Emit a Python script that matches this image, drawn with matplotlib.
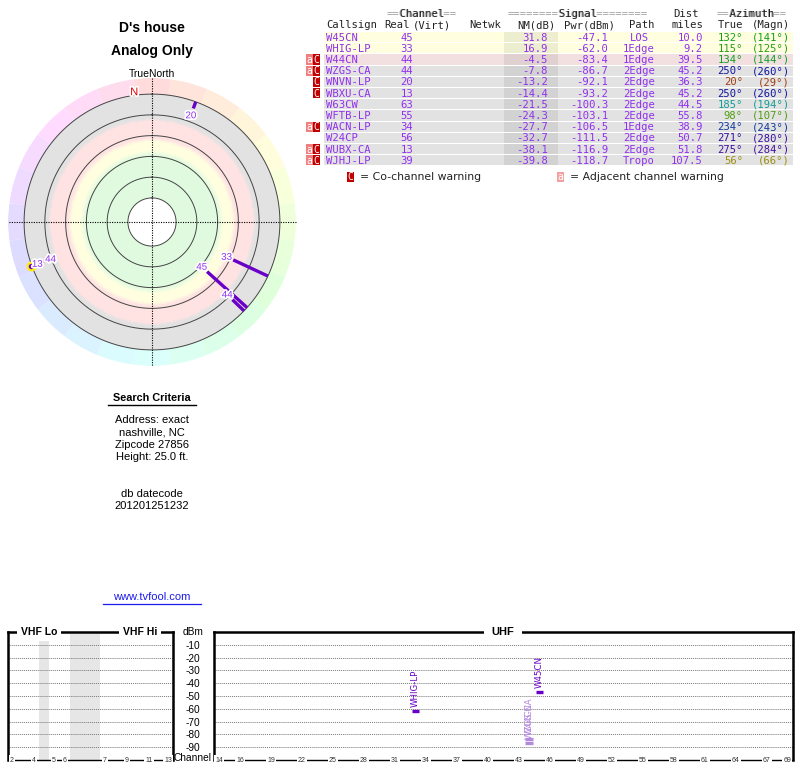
"""TVFool-style signal report: radar plot, station table and spectrum strip."""

import colorsys

import matplotlib

matplotlib.use("Agg")
import matplotlib.patheffects as pe
import matplotlib.pyplot as plt
import numpy as np
from matplotlib.colors import LinearSegmentedColormap
from matplotlib.patches import Rectangle

# ---- station data ----
CALLSIGNS = ["W45CN", "WHIG-LP", "W44CN", "WZGS-CA", "WNVN-LP", "WBXU-CA",
             "W63CW", "WFTB-LP", "WACN-LP", "W24CP", "WUBX-CA", "WJHJ-LP"]
REAL_CH = [45, 33, 44, 44, 20, 13, 63, 55, 34, 56, 13, 39]
NM_DB = [31.8, 16.9, -4.5, -7.8, -13.2, -14.4, -21.5, -24.3, -27.7, -32.7, -38.1, -39.8]
PWR_DBM = [-47.1, -62.0, -83.4, -86.7, -92.1, -93.2, -100.3, -103.1, -106.5,
           -111.5, -116.9, -118.7]
PATH = ["LOS", "1Edge", "1Edge", "2Edge", "2Edge", "2Edge", "2Edge", "2Edge",
        "1Edge", "2Edge", "2Edge", "Tropo"]
DIST_MI = [10.0, 9.2, 39.5, 45.2, 36.3, 45.2, 44.5, 55.8, 38.9, 50.7, 51.8, 107.5]
AZ_TRUE = [132, 115, 134, 250, 20, 250, 185, 98, 234, 271, 275, 56]
AZ_MAGN = [141, 125, 144, 260, 29, 260, 194, 107, 243, 280, 284, 66]
CO_CHANNEL = [False, False, True, True, True, True, False, False, True, False, True, True]
ADJ_CHANNEL = [False, False, True, True, False, False, False, False, True, False, True, True]
HIGHLIGHT = ["WBXU-CA"]

UHF_TICKS = [14, 16, 19, 22, 25, 28, 31, 34, 37, 40, 43, 46, 49, 52, 55, 58, 61, 64, 67, 69]
VHF_TICK_LABELS = ["2", "4", "5", "6", "7", "9", "11", "13"]
DBM_TICKS = [-10, -20, -30, -40, -50, -60, -70, -80, -90]

SEARCH_LINES = ["Address: exact", "nashville, NC", "Zipcode 27856", "Height: 25.0 ft."]
DATECODE = "201201251232"

# ---- styling ----
SANS = "Liberation Sans"
MONO = "DejaVu Sans Mono"
PURPLE = "#9030ee"
BAR_DARK = "#6a00c8"
BAR_LIGHT = "#b48ae0"
VHF_TICK_POS = [0.36, 2.36, 4.18, 5.18, 8.82, 10.82, 12.82, 14.55]
VHF_GAPS = [(2.82, 3.73), (5.64, 8.36)]
R_ORIGIN = -103.2  # radial origin (hole) for the radar, in -NM units
R_OUTER_CIRCLE = 20
R_RING = 35.5


def az_color(az, sat=0.9, val=0.62):
    return colorsys.hsv_to_rgb((az / 360.0) * 0.95, sat, val)


def row_color(nm):
    if nm >= 10:
        return "#ffffe0"
    if nm >= -5:
        return "#f2e0e0"
    return "#e2e2e2"


fig = plt.figure(figsize=(8, 7.68), dpi=100)

# ---------------- radar plot ----------------
axp = fig.add_axes([8 / 800, 1 - 366 / 768, 288 / 800, 288 / 768], projection="polar")
axp.set_theta_zero_location("N")
axp.set_theta_direction(-1)
axp.set_rorigin(R_ORIGIN)
axp.set_ylim(-80, R_RING)
axp.axis("off")

band_cmap = LinearSegmentedColormap.from_list(
    "bands",
    [(0.0, "#e0fae0"), (0.41, "#e0fae0"), (0.46, "#ffffe0"), (0.54, "#ffffe0"),
     (0.58, "#ffe2e2"), (0.74, "#ffe2e2"), (0.77, "#e2e2e2"), (1.0, "#e2e2e2")],
)
th_edges = np.linspace(0, 2 * np.pi, 181)
s_edges = np.linspace(-80, R_OUTER_CIRCLE, 101)
s_mid = 0.5 * (s_edges[:-1] + s_edges[1:])
C = np.repeat(s_mid[:, None], 180, axis=1)
axp.pcolormesh(th_edges, s_edges, C, cmap=band_cmap, vmin=-80, vmax=R_OUTER_CIRCLE,
               shading="flat", antialiased=False, zorder=1)

wedge_az = np.arange(0, 360, 15)
wedge_cols = [colorsys.hsv_to_rgb((a / 360.0) * 0.95, 0.14, 1.0) for a in wedge_az]
axp.bar(np.deg2rad(wedge_az), R_RING - R_OUTER_CIRCLE, width=np.deg2rad(15),
        bottom=R_OUTER_CIRCLE, color=wedge_cols, linewidth=0, zorder=1)

theta = np.linspace(0, 2 * np.pi, 361)
for s in range(-80, R_OUTER_CIRCLE + 1, 20):
    axp.plot(theta, np.full_like(theta, s), color="#444444", lw=0.7, zorder=2, clip_on=False)

for ang in (0, 90):
    a = np.deg2rad(ang)
    axp.plot([a, a, a + np.pi, a + np.pi], [R_RING, R_ORIGIN, R_ORIGIN, R_RING],
             color="black", lw=0.8, ls=(0, (1, 1.2)), zorder=3, clip_on=False)

seen_az = []
for cs, ch, nm, az in zip(CALLSIGNS, REAL_CH, NM_DB, AZ_TRUE):
    if nm <= -R_OUTER_CIRCLE:
        continue
    a = np.deg2rad(az)
    axp.plot([a, a], [-nm, R_OUTER_CIRCLE], color=BAR_DARK, lw=2.4,
             solid_capstyle="butt", zorder=4)
    if cs in HIGHLIGHT:
        axp.plot([a], [R_OUTER_CIRCLE + 0.5], marker="o", ms=5.5, mfc=BAR_DARK,
                 mec="#ffee00", mew=1.6, zorder=4, clip_on=False)
    shift = 0 if az in seen_az else 7
    seen_az.append(az)
    axp.text(a, -nm - shift, str(ch), ha="center", va="center", color=PURPLE,
             fontsize=7, family=SANS, zorder=6,
             path_effects=[pe.withStroke(linewidth=2.5, foreground="white")])

axp.text(np.deg2rad(-7.8), 23, "N", ha="center", va="center", color="#dd0000",
         fontsize=8, family=SANS, zorder=6,
         path_effects=[pe.withStroke(linewidth=2.5, foreground="white")])

# ---------------- spectrum strip ----------------
y_bot = 1 - 760 / 768
h_spec = 128 / 768
ax_v = fig.add_axes([8 / 800, y_bot, 165 / 800, h_spec])
ax_u = fig.add_axes([214 / 800, y_bot, 579 / 800, h_spec])

for ax in (ax_v, ax_u):
    ax.set_ylim(-100, 0)
    ax.set_yticks(DBM_TICKS)
    ax.set_xticks([])
    ax.yaxis.grid(True, linestyle=(0, (1, 1)), color="#777777", lw=0.7)
    ax.set_axisbelow(True)
    for side in ("left", "right", "top"):
        ax.spines[side].set_linewidth(1.8)
    ax.spines["bottom"].set_linewidth(1.0)

ax_v.set_xlim(0, 15)
ax_v.tick_params(axis="y", length=0, labelleft=False)
for g0, g1 in VHF_GAPS:
    ax_v.axvspan(g0, g1, color="#e6e6e6", lw=0, zorder=0)
for pos, lab in zip(VHF_TICK_POS, VHF_TICK_LABELS):
    ax_v.text(pos, -100, lab, ha="center", va="center", fontsize=5, family=SANS,
              color="#333333", zorder=4, clip_on=False,
              bbox=dict(boxstyle="square,pad=0.15", fc="white", ec="none"))

ax_u.set_xlim(13.49, 69.54)
ax_u.set_yticklabels([str(v) for v in DBM_TICKS], family=SANS, fontsize=7.3)
ax_u.tick_params(axis="y", length=0, pad=15)
for lbl in ax_u.get_yticklabels():
    lbl.set_horizontalalignment("center")
for t in UHF_TICKS:
    ax_u.text(t, -100, str(t), ha="center", va="center", fontsize=5, family=SANS,
              color="#333333", zorder=4, clip_on=False,
              bbox=dict(boxstyle="square,pad=0.15", fc="white", ec="none"))

for cs, ch, nm, pwr in zip(CALLSIGNS, REAL_CH, NM_DB, PWR_DBM):
    if pwr < -90 or ch < 14:
        continue
    col = BAR_DARK if nm > 0 else BAR_LIGHT
    ax_u.hlines(pwr, ch - 0.38, ch + 0.38, color=col, lw=2.4, zorder=3)
    ax_u.text(ch, pwr + 3.2, cs, rotation=90, ha="center", va="bottom",
              fontsize=6.2, family="DejaVu Sans", color=col if nm > 0 else BAR_LIGHT,
              zorder=3)

# ---------------- overlay: text and table ----------------
ov = fig.add_axes([0, 0, 1, 1], zorder=5)
ov.set_xlim(0, 800)
ov.set_ylim(768, 0)
ov.axis("off")

ov.text(152, 28, "D's house", ha="center", va="center", fontsize=10,
        fontweight="bold", family=SANS)
ov.text(152, 51, "Analog Only", ha="center", va="center", fontsize=10,
        fontweight="bold", family=SANS)
ov.text(152, 74, "TrueNorth", ha="center", va="center", fontsize=7.5, family=SANS)

ov.text(152, 398, "Search Criteria", ha="center", va="center", fontsize=7.8,
        fontweight="bold", family=SANS)
ov.plot([108, 196], [405, 405], color="black", lw=1)
for i, line in enumerate(SEARCH_LINES):
    ov.text(152, 420 + i * 12.3, line, ha="center", va="center", fontsize=8, family=SANS)
ov.text(152, 494, "db datecode", ha="center", va="center", fontsize=8, family=SANS)
ov.text(152, 506, DATECODE, ha="center", va="center", fontsize=8, family=SANS)
ov.text(152, 597, "www.tvfool.com", ha="center", va="center", fontsize=8,
        family=SANS, color="#1a1aee")
ov.plot([103, 201], [604, 604], color="#1a1aee", lw=0.9)

ov.text(39, 632, "VHF Lo", ha="center", va="center", fontsize=7.5, fontweight="bold",
        family=SANS, bbox=dict(boxstyle="square,pad=0.4", fc="white", ec="none"))
ov.text(140, 632, "VHF Hi", ha="center", va="center", fontsize=7.5, fontweight="bold",
        family=SANS, bbox=dict(boxstyle="square,pad=0.4", fc="white", ec="none"))
ov.text(503, 632, "UHF", ha="center", va="center", fontsize=8, fontweight="bold",
        family=SANS, bbox=dict(boxstyle="square,pad=0.7", fc="white", ec="none"))
ov.text(193, 632, "dBm", ha="center", va="center", fontsize=7.3, family=SANS)
ov.text(193, 758, "Channel", ha="center", va="center", fontsize=7.3, family=SANS)

# table header
HFS = 7.6
GREY = "#a0a0a0"
for full, x, ha in [("==Channel==", 387, "left"),
                    ("========Signal========", 508, "left"),
                    ("==Azimuth==", 717, "left")]:
    word = full.strip("=")
    pad = " " * full.index(word)
    ov.text(x, 14, full, ha=ha, va="center", fontsize=HFS, family=MONO, color=GREY)
    ov.text(x, 14, pad + word + pad, ha=ha, va="center", fontsize=HFS, family=MONO,
            color="#222222")
ov.text(686, 14, "Dist", ha="center", va="center", fontsize=HFS, family=MONO, color="#222222")
for txt, x, ha in [("Callsign", 326, "left"), ("Real", 410, "right"), ("(Virt)", 413, "left"),
                   ("Netwk", 485, "center"), ("NM(dB)", 555, "right"),
                   ("Pwr(dBm)", 615, "right"), ("Path", 642, "center"),
                   ("miles", 703, "right"), ("True", 743, "right"), ("(Magn)", 790, "right")]:
    ov.text(x, 25, txt, ha=ha, va="center", fontsize=HFS, family=MONO, color="#222222")

ROW_H = 11.2
ROW_TOP = 32
for i, cs in enumerate(CALLSIGNS):
    top = ROW_TOP + i * ROW_H
    yc = top + ROW_H / 2
    ov.add_patch(Rectangle((324, top), 469, ROW_H - 1, fc=row_color(NM_DB[i]), ec="none"))
    ov.add_patch(Rectangle((504, top), 54, ROW_H - 1, fc="black", alpha=0.07, ec="none"))
    if ADJ_CHANNEL[i]:
        ov.add_patch(Rectangle((306, top), 7, ROW_H - 1, fc="#f08080", ec="none"))
        ov.text(309.5, yc, "a", ha="center", va="center", fontsize=7, family=MONO, color="white")
    if CO_CHANNEL[i]:
        ov.add_patch(Rectangle((313, top), 7, ROW_H - 1, fc="#c00000", ec="none"))
        ov.text(316.5, yc, "C", ha="center", va="center", fontsize=7, family=MONO, color="white")
    kw = dict(va="center", fontsize=HFS, family=MONO, color=PURPLE)
    ov.text(326, yc, cs, ha="left", **kw)
    ov.text(413, yc, str(REAL_CH[i]), ha="right", **kw)
    ov.text(548, yc, f"{NM_DB[i]:.1f}", ha="right", **kw)
    ov.text(608, yc, f"{PWR_DBM[i]:.1f}", ha="right", **kw)
    ov.text(639, yc, PATH[i], ha="center", **kw)
    ov.text(703, yc, f"{DIST_MI[i]:.1f}", ha="right", **kw)
    acol = az_color(AZ_TRUE[i])
    ov.text(743, yc, f"{AZ_TRUE[i]}\u00b0", ha="right", va="center", fontsize=HFS,
            family=MONO, color=acol)
    ov.text(790, yc, f"({AZ_MAGN[i]}\u00b0)", ha="right", va="center", fontsize=HFS,
            family=MONO, color=acol)

# legend under table
ov.add_patch(Rectangle((347, 172), 7, 10, fc="#c00000", ec="none"))
ov.text(350.5, 177, "C", ha="center", va="center", fontsize=7, family=MONO, color="white")
ov.text(360, 177, "= Co-channel warning", ha="left", va="center", fontsize=7.8,
        family="DejaVu Sans", color="#222222")
ov.add_patch(Rectangle((557, 172), 7, 10, fc="#f4a0a0", ec="none"))
ov.text(560.5, 177, "a", ha="center", va="center", fontsize=7, family=MONO, color="white")
ov.text(570, 177, "= Adjacent channel warning", ha="left", va="center", fontsize=7.8,
        family="DejaVu Sans", color="#222222")

fig.savefig("out.png", dpi=100)
